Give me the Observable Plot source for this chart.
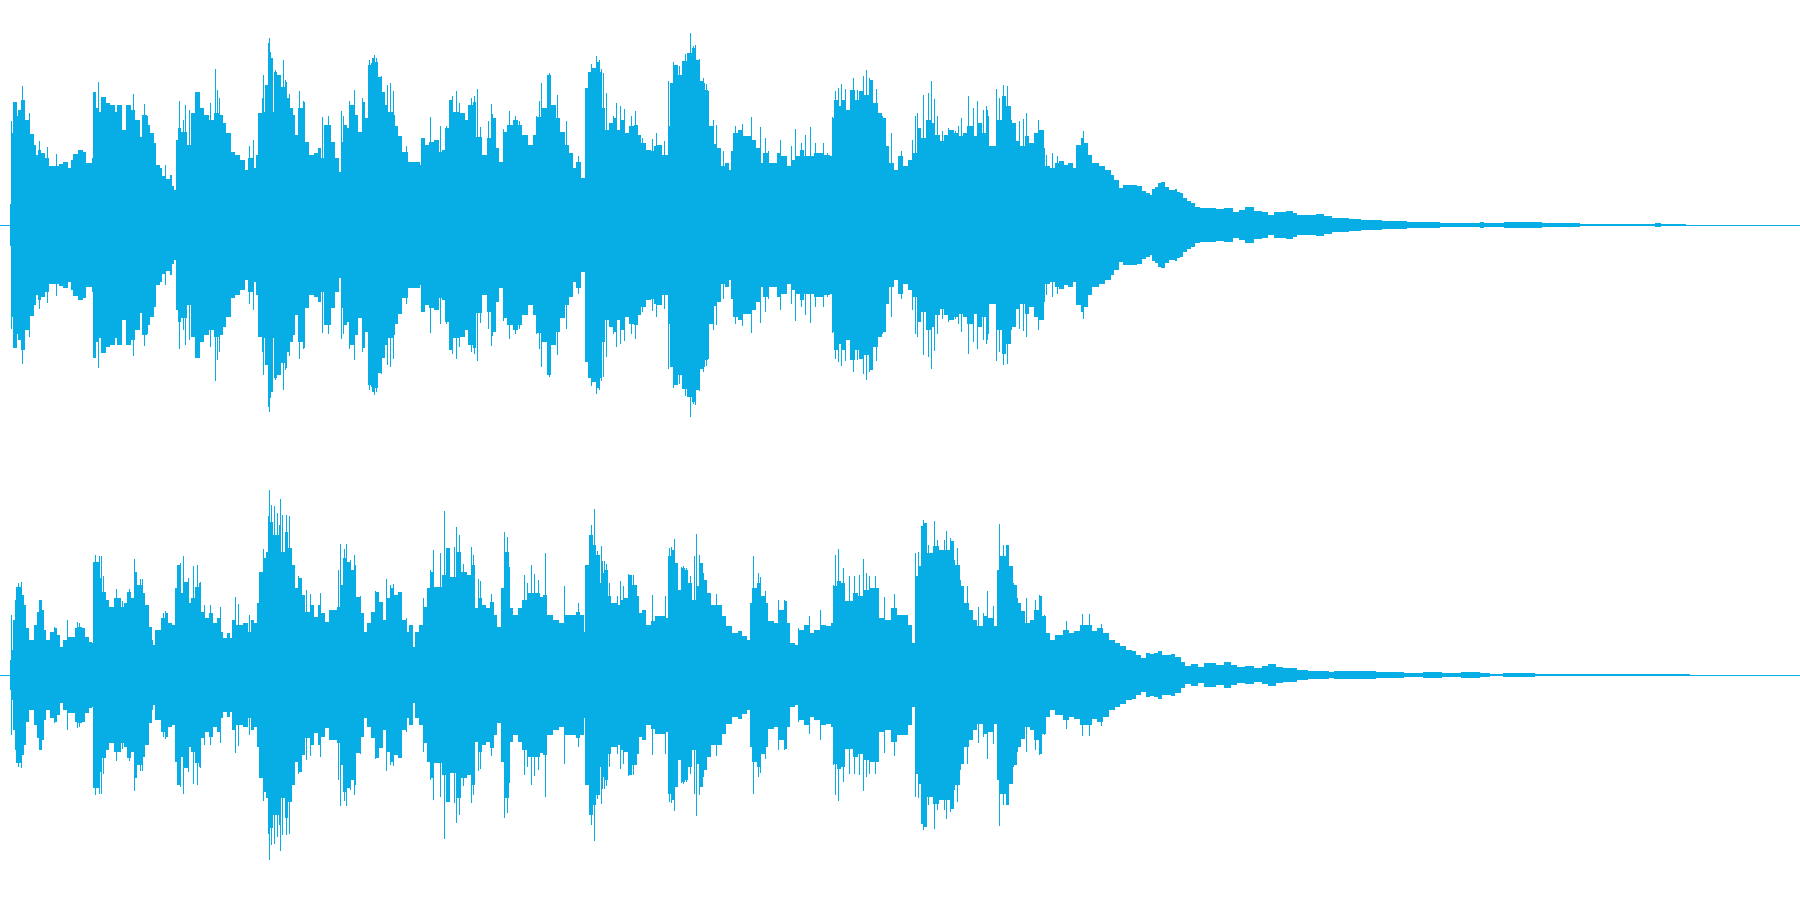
<!DOCTYPE html>
<html>
<head>
<meta charset="utf-8">
<script src="https://cdn.jsdelivr.net/npm/d3@7"></script>
<script src="https://cdn.jsdelivr.net/npm/@observablehq/plot@0.6"></script>
<style>
html,body{margin:0;padding:0;background:#fff;overflow:hidden}
#chart svg{display:block}
</style>
</head>
<body>
<div id="chart"></div>
<script>
const waveColor = "#07aee6";
const timeDomain = [0, 4704];
const ampDomain = [-675, 675];
const secondPanelStart = 1568;

// Envelope steps [time, amplitude]
const ch1BodyA = [[27,64],[30,276],[33,370],[45,326],[48,345],[54,375],[66,315],[78,273],[90,241],[93,211],[99,225],[108,216],[117,200],[129,176],[144,178],[153,184],[165,190],[177,171],[186,194],[192,212],[204,226],[216,220],[225,186],[240,200],[243,398],[252,350],[258,340],[264,385],[276,365],[288,360],[300,340],[306,360],[318,286],[330,360],[342,345],[354,316],[366,265],[372,330],[384,300],[393,275],[402,246],[408,181],[417,170],[423,146],[432,138],[444,150],[450,116],[456,106],[459,254],[465,291],[474,280],[489,241],[498,335],[510,400],[522,350],[534,330],[546,316],[558,335],[573,330],[582,305],[591,275],[603,220],[615,210],[627,196],[639,166],[648,200],[660,170],[669,210],[675,335],[684,340],[693,420],[702,520],[708,500],[714,340],[717,460],[723,450],[735,415],[744,430],[750,380],[756,350],[765,330],[771,270],[780,350],[792,370],[798,250],[807,210],[820,215],[830,230],[840,200],[846,300],[855,300],[864,250],[876,200],[885,160],[890,250],[897,300],[906,290],[915,360],[927,330],[936,280],[945,370],[954,320],[963,480],[972,500],[981,490],[987,445],[996,400],[1005,360],[1014,340],[1026,330],[1032,296],[1041,268],[1050,220],[1059,220],[1065,190],[1080,190],[1098,180],[1101,260],[1110,240],[1120,250],[1135,255],[1147,220],[1155,225],[1164,290],[1173,375],[1185,340],[1200,335],[1215,315],[1224,360],[1236,370],[1245,265],[1260,210],[1272,260],[1284,320],[1296,230],[1305,190],[1314,280],[1326,300],[1341,315],[1353,300],[1365,270],[1380,240],[1392,270],[1404,325],[1416,350],[1431,450],[1440,360],[1452,320],[1464,280],[1476,240],[1488,215],[1497,170],[1506,190],[1518,140],[1528,410],[1536,460],[1545,470],[1557,490]];
const ch1BodyB = [[0,460],[6,350],[12,286],[24,306],[33,321],[42,286],[54,316],[66,276],[75,296],[90,301],[99,271],[108,246],[120,226],[132,221],[141,236],[150,241],[162,211],[172,211],[177,298],[183,426],[192,481],[204,451],[216,491],[231,516],[240,531],[252,496],[261,431],[270,406],[282,296],[294,244],[306,231],[315,176],[327,186],[336,166],[342,221],[348,276],[360,286],[372,266],[396,256],[408,231],[417,186],[426,216],[438,186],[462,216],[474,206],[489,176],[498,196],[510,206],[522,226],[534,206],[558,216],[585,211],[600,206],[606,321],[612,376],[621,356],[630,376],[642,346],[654,406],[666,376],[678,401],[690,391],[702,436],[714,366],[726,336],[738,321],[747,236],[756,186],[768,166],[780,206],[792,176],[804,196],[816,216],[828,291],[840,261],[852,316],[864,306],[876,271],[888,251],[900,271],[912,286],[924,276],[936,266],[948,276],[960,296],[975,266],[987,306],[999,276],[1008,326],[1017,238],[1032,236],[1038,316],[1050,386],[1062,356],[1074,306],[1086,251],[1098,236],[1110,266],[1122,246],[1134,276],[1146,286],[1158,231],[1164,176],[1176,171],[1188,186],[1200,191],[1212,181],[1224,186],[1236,171],[1245,241],[1257,261],[1266,246],[1276,211],[1287,186],[1305,176],[1320,166],[1335,151],[1344,134],[1356,111],[1368,121],[1404,116],[1416,101],[1428,96]];
const ch1Tail = [[3005,90],[3010,107],[3018,115],[3025,125],[3034,130],[3044,115],[3054,105],[3070,108],[3077,100],[3083,95],[3092,80],[3103,73],[3113,65],[3124,55],[3135,50],[3178,47],[3200,50],[3222,40],[3238,45],[3254,53],[3276,43],[3297,40],[3314,30],[3330,40],[3362,43],[3379,35],[3390,30],[3438,33],[3460,27],[3482,20],[3525,17],[3557,15],[3612,12],[3677,10],[3709,9],[3763,6],[3796,5],[3868,9],[3878,5],[3931,8],[4018,8],[4029,6],[4067,7],[4128,3],[4324,6],[4341,3],[4406,0]];

const ch2BodyA = [[27,46],[30,75],[33,165],[38,225],[42,265],[54,280],[57,240],[63,210],[68,140],[75,105],[90,150],[96,190],[102,225],[108,195],[114,135],[120,105],[130,130],[142,140],[150,120],[158,85],[165,105],[175,115],[195,140],[205,145],[215,140],[222,115],[232,100],[240,96],[243,340],[258,290],[264,250],[276,225],[285,205],[297,230],[315,205],[324,215],[333,250],[342,230],[351,310],[358,270],[370,245],[380,210],[390,145],[396,105],[399,90],[405,135],[420,170],[432,185],[440,155],[450,150],[457,260],[463,330],[470,245],[480,280],[490,215],[500,230],[510,265],[520,275],[526,190],[535,170],[546,185],[556,155],[568,170],[576,130],[582,110],[592,125],[600,110],[606,165],[615,150],[635,155],[648,130],[655,165],[665,155],[672,215],[678,310],[690,350],[696,370],[702,460],[714,420],[729,450],[735,370],[744,430],[753,380],[762,330],[771,260],[780,290],[789,240],[798,190],[810,210],[820,175],[830,210],[840,185],[850,160],[860,195],[880,205],[888,270],[896,350],[906,340],[915,315],[924,330],[930,235],[942,185],[950,130],[960,155],[970,190],[980,250],[990,220],[1000,165],[1010,230],[1020,260],[1030,240],[1040,250],[1050,165],[1060,130],[1068,150],[1078,85],[1085,130],[1095,150],[1105,205],[1115,260],[1125,310],[1135,265],[1155,300],[1165,380],[1175,295],[1195,370],[1205,310],[1220,300],[1232,330],[1242,200],[1250,230],[1260,210],[1270,200],[1280,220],[1290,180],[1300,145],[1312,260],[1320,370],[1330,200],[1340,180],[1355,200],[1365,225],[1380,245],[1410,235],[1420,240],[1430,180],[1445,165],[1460,155],[1475,180],[1505,190],[1515,180],[1525,130],[1532,330],[1540,420],[1550,390],[1558,360]];
const ch2BodyB = [[0,276],[6,306],[12,316],[20,236],[30,216],[45,211],[52,226],[60,231],[72,301],[84,271],[96,236],[102,186],[110,196],[120,151],[132,161],[145,176],[172,171],[178,356],[186,376],[195,336],[204,256],[214,321],[222,316],[231,276],[240,226],[252,266],[262,336],[270,286],[280,246],[290,211],[318,176],[328,146],[345,126],[360,131],[372,116],[385,106],[392,216],[398,261],[410,276],[420,236],[430,216],[440,161],[455,156],[465,196],[480,221],[488,156],[497,96],[510,91],[520,136],[532,151],[545,126],[560,136],[575,151],[590,146],[603,156],[610,266],[620,281],[630,276],[640,221],[660,246],[675,236],[690,256],[705,261],[730,171],[745,166],[760,201],[775,181],[805,151],[815,96],[822,296],[830,326],[840,446],[848,456],[855,366],[870,386],[885,376],[915,401],[925,331],[940,266],[950,216],[965,196],[975,166],[985,146],[1000,176],[1015,171],[1030,146],[1037,316],[1045,356],[1060,391],[1068,326],[1080,271],[1090,216],[1100,191],[1110,156],[1125,166],[1135,196],[1148,236],[1155,176],[1165,126],[1175,106],[1190,121],[1210,136],[1225,126],[1240,131],[1255,151],[1285,131],[1300,141],[1315,126],[1330,106],[1345,96],[1360,86],[1375,76],[1390,71],[1400,61],[1415,51],[1428,66]];
const ch2Tail = [[3005,62],[3016,65],[3027,72],[3037,60],[3059,62],[3070,55],[3086,40],[3097,28],[3113,33],[3130,25],[3146,35],[3178,30],[3198,38],[3216,30],[3232,23],[3254,28],[3276,22],[3297,28],[3314,33],[3335,25],[3352,20],[3373,22],[3390,15],[3417,13],[3473,9],[3487,13],[3514,12],[3536,13],[3557,11],[3595,10],[3644,8],[3668,6],[3720,9],[3769,6],[3817,8],[3828,9],[3869,6],[3893,3],[3928,7],[4012,3],[4417,0]];

// Single-column peaks [time, amplitude]
const ch1PeakA = [[30,311],[58,416],[75,336],[103,251],[124,233],[147,213],[256,430],[347,394],[377,364],[385,326],[432,181],[446,151],[469,371],[478,316],[484,361],[494,346],[505,336],[550,366],[562,469],[568,406],[572,381],[650,238],[660,256],[676,336],[684,381],[688,451],[692,416],[700,546],[704,561],[712,466],[718,466],[722,451],[740,496],[745,436],[756,394],[782,401],[792,371],[842,324],[856,326],[870,236],[892,341],[897,326],[912,373],[924,404],[947,381],[965,496],[970,486],[977,511],[983,501],[995,448],[1012,421],[1020,426],[1028,401],[1062,236],[1125,324],[1150,298],[1165,296],[1180,386],[1192,403],[1200,366],[1232,381],[1240,386],[1247,409],[1254,294],[1275,313],[1282,364],[1286,333],[1315,289],[1330,341],[1346,326],[1356,311],[1376,271],[1400,326],[1408,371],[1414,426],[1430,451],[1434,456],[1455,391],[1478,311],[1510,208],[1536,441],[1544,484],[1552,466],[1558,508],[1565,496]];
const ch1PeakB = [[2,468],[8,456],[16,396],[34,326],[42,366],[52,356],[64,348],[80,326],[92,343],[110,261],[135,259],[147,276],[168,251],[179,431],[190,489],[200,476],[207,478],[213,491],[222,513],[228,516],[234,576],[242,536],[249,541],[258,498],[268,441],[272,426],[278,423],[283,403],[296,316],[304,299],[322,221],[354,296],[370,304],[395,324],[418,294],[430,261],[440,221],[471,256],[500,238],[510,289],[525,246],[536,271],[550,293],[562,246],[582,246],[594,216],[606,323],[615,403],[622,411],[630,424],[640,409],[662,441],[672,406],[688,448],[696,466],[702,441],[720,409],[738,326],[744,283],[760,276],[786,221],[816,256],[822,328],[828,336],[845,391],[856,396],[864,431],[872,379],[880,326],[895,281],[910,291],[928,281],[936,296],[944,321],[963,388],[975,351],[986,371],[1002,346],[1008,358],[1012,346],[1036,409],[1044,381],[1052,420],[1064,418],[1068,351],[1075,316],[1096,311],[1105,318],[1112,336],[1136,276],[1145,316],[1157,286],[1165,211],[1182,216],[1195,206],[1245,216],[1263,283],[1272,246]];
const ch2PeakA = [[30,181],[38,224],[46,276],[54,280],[101,224],[106,226],[142,144],[175,166],[200,159],[207,156],[249,361],[258,358],[264,358],[268,296],[304,259],[320,221],[337,258],[351,349],[365,289],[372,289],[425,186],[432,191],[462,331],[470,336],[478,358],[490,291],[505,326],[515,331],[522,278],[534,211],[548,211],[576,203],[615,233],[623,214],[650,181],[688,379],[690,321],[700,478],[704,556],[708,511],[716,506],[724,486],[731,529],[738,481],[748,481],[755,476],[760,379],[780,296],[800,256],[810,244],[835,246],[882,316],[888,394],[900,379],[905,394],[915,346],[924,361],[942,238],[980,251],[1010,289],[1020,271],[1028,274],[1060,171],[1105,231],[1125,316],[1131,376],[1150,366],[1161,491],[1173,361],[1186,384],[1192,443],[1200,421],[1210,334],[1230,384],[1235,361],[1250,288],[1255,283],[1284,244],[1310,261],[1318,430],[1324,414],[1330,323],[1370,301],[1378,276],[1388,331],[1396,304],[1405,286],[1425,366],[1475,268],[1510,216],[1530,331],[1538,421],[1545,451],[1553,499],[1560,371]];
const ch2PeakB = [[2,386],[6,341],[10,341],[16,334],[24,276],[45,236],[52,281],[60,266],[72,304],[87,301],[100,231],[135,241],[170,236],[180,381],[186,384],[194,409],[212,324],[218,328],[226,321],[236,298],[246,358],[252,424],[258,361],[268,306],[282,246],[304,244],[400,358],[412,306],[418,294],[430,251],[464,224],[480,224],[518,141],[545,176],[575,194],[610,271],[615,361],[623,379],[636,321],[650,296],[664,296],[676,301],[686,348],[695,306],[703,296],[718,298],[742,233],[768,244],[822,366],[832,368],[841,448],[845,466],[850,451],[858,391],[866,366],[872,461],[880,406],[893,351],[900,404],[905,431],[915,411],[925,346],[932,381],[942,286],[958,268],[988,204],[1000,186],[1012,253],[1028,206],[1040,316],[1044,454],[1052,391],[1060,388],[1068,326],[1080,276],[1090,231],[1112,231],[1138,226],[1148,241],[1160,181],[1217,161],[1260,184],[1278,184],[1310,154]];

const shift = rows => rows.map(([t, a]) => [t + secondPanelStart, a]);

function steps(rows) {
  return rows.slice(0, -1).map(([t, a], i) => ({t0: t, t1: rows[i + 1][0], a}));
}

function channel(body, peaks) {
  return Plot.plot({
    width: 1800, height: 450,
    margin: 0,
    x: {domain: timeDomain, range: [0, 1800], axis: null},
    y: {domain: ampDomain, range: [450, 0], axis: null},
    marks: [
      Plot.ruleY([0], {stroke: waveColor, strokeWidth: 1, shapeRendering: "crispEdges"}),
      Plot.rect(steps(body), {x1: "t0", x2: "t1", y1: d => -d.a, y2: "a", fill: waveColor, shapeRendering: "crispEdges"}),
      Plot.ruleX(peaks, {x: d => d[0], y1: d => -d[1], y2: d => d[1], stroke: waveColor, strokeWidth: 1, shapeRendering: "crispEdges"})
    ]
  });
}

const root = document.getElementById("chart");
root.append(
  channel([...ch1BodyA, ...shift(ch1BodyB), ...ch1Tail], [...ch1PeakA, ...shift(ch1PeakB)]),
  channel([...ch2BodyA, ...shift(ch2BodyB), ...ch2Tail], [...ch2PeakA, ...shift(ch2PeakB)])
);
</script>
</body>
</html>
